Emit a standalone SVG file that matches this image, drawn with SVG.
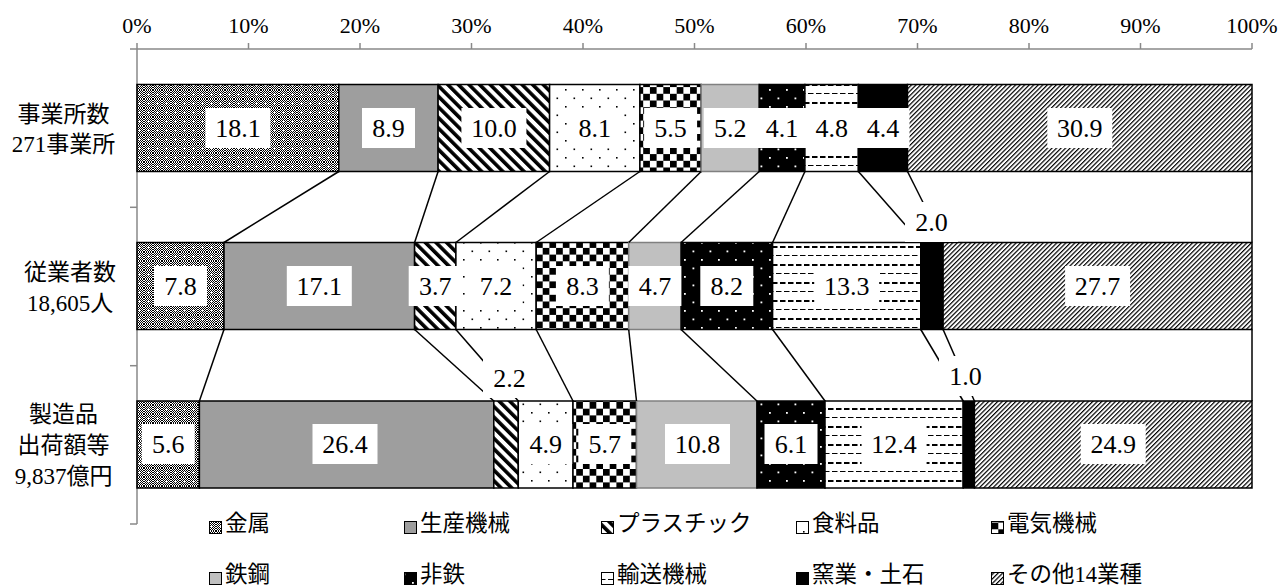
<svg xmlns="http://www.w3.org/2000/svg" width="1287" height="588" viewBox="0 0 1287 588">
<defs>
<pattern id="p-chk" width="2" height="2" patternUnits="userSpaceOnUse">
<rect width="2" height="2" fill="#fff"/>
<rect x="0" y="0" width="1" height="1" fill="#000"/>
<rect x="1" y="1" width="1" height="1" fill="#000"/>
</pattern>
<pattern id="p-metal" width="9" height="9" patternUnits="userSpaceOnUse">
<rect width="9" height="9" fill="url(#p-chk)"/>
<rect x="4" y="3" width="1" height="3" fill="#fff"/>
<rect x="3" y="4" width="3" height="1" fill="#fff"/>
</pattern>
<pattern id="p-plas" width="7.5" height="7.5" patternUnits="userSpaceOnUse" patternTransform="rotate(-45)">
<rect width="7.5" height="7.5" fill="#fff"/>
<rect x="0" y="0" width="3.6" height="7.5" fill="#000"/>
</pattern>
<pattern id="p-food" width="17" height="17" patternUnits="userSpaceOnUse">
<rect width="17" height="17" fill="#fff"/>
<rect x="4" y="4" width="1.6" height="1.6" fill="#000"/>
<rect x="12.5" y="12.5" width="1.6" height="1.6" fill="#000"/>
</pattern>
<pattern id="p-elec" width="13.4" height="13.4" patternUnits="userSpaceOnUse">
<rect width="13.4" height="13.4" fill="#fff"/>
<rect x="0" y="0" width="6.7" height="6.7" fill="#000"/>
<rect x="6.7" y="6.7" width="6.7" height="6.7" fill="#000"/>
</pattern>
<pattern id="p-nonf" width="17" height="17" patternUnits="userSpaceOnUse">
<rect width="17" height="17" fill="#000"/>
<rect x="4" y="4" width="1.8" height="1.8" fill="#fff"/>
<rect x="12.5" y="12.5" width="1.8" height="1.8" fill="#fff"/>
</pattern>
<pattern id="p-trans" width="16" height="18" patternUnits="userSpaceOnUse">
<rect width="16" height="18" fill="#fff"/>
<rect x="0" y="3" width="5.5" height="1" fill="#000"/>
<rect x="8" y="3" width="5.5" height="1" fill="#000"/>
<rect x="4" y="12" width="5.5" height="2" fill="#000"/>
<rect x="12" y="12" width="4" height="2" fill="#000"/>
<rect x="0" y="12" width="1.5" height="2" fill="#000"/>
</pattern>
<pattern id="p-oth" width="3.2" height="3.2" patternUnits="userSpaceOnUse" patternTransform="rotate(45)">
<rect width="3.2" height="3.2" fill="#fff"/>
<rect x="0" y="0" width="1.2" height="3.2" fill="#000"/>
</pattern>
</defs>
<style>
.seg{stroke:#000;stroke-width:1.5}
.metal{fill:url(#p-metal)}
.mach{fill:#9e9e9e}
.plas{fill:url(#p-plas)}
.food{fill:url(#p-food)}
.elec{fill:url(#p-elec)}
.steel{fill:#c0c0c0;stroke:#808080}
.nonf{fill:url(#p-nonf)}
.trans{fill:url(#p-trans)}
.cer{fill:#000}
.oth{fill:url(#p-oth)}
.box{fill:#fff}
.val{font-family:"Liberation Serif","Noto Sans CJK JP",serif;font-size:26px;text-anchor:middle;fill:#000}
.axt{font-family:"Liberation Serif","Noto Sans CJK JP",serif;font-size:22px;text-anchor:middle;fill:#000}
.cat{font-family:"Liberation Serif","Noto Sans CJK JP",serif;font-size:23px;text-anchor:middle;fill:#000}
.leg{font-family:"Liberation Serif","Noto Sans CJK JP",serif;font-size:22.5px;fill:#000}
.sw{stroke:#000;stroke-width:1}
.axis line{stroke:#898989;stroke-width:1.5}
.conn line{stroke:#000;stroke-width:1.5}
</style>
<rect width="1287" height="588" fill="#fff"/>

<g id="axis" class="axis">
<line x1="130" y1="49" x2="1252" y2="49"/>
<line x1="137" y1="43" x2="137" y2="524"/>
<line x1="248.5" y1="43" x2="248.5" y2="49"/>
<line x1="360" y1="43" x2="360" y2="49"/>
<line x1="471.5" y1="43" x2="471.5" y2="49"/>
<line x1="583" y1="43" x2="583" y2="49"/>
<line x1="694.5" y1="43" x2="694.5" y2="49"/>
<line x1="806" y1="43" x2="806" y2="49"/>
<line x1="917.5" y1="43" x2="917.5" y2="49"/>
<line x1="1029" y1="43" x2="1029" y2="49"/>
<line x1="1140.5" y1="43" x2="1140.5" y2="49"/>
<line x1="1252" y1="43" x2="1252" y2="49"/>
<line x1="130" y1="207.3" x2="137" y2="207.3"/>
<line x1="130" y1="365.7" x2="137" y2="365.7"/>
<line x1="130" y1="524" x2="137" y2="524"/>
</g>
<g id="axis-labels" class="axt">
<text x="137" y="33">0%</text>
<text x="248.5" y="33">10%</text>
<text x="360" y="33">20%</text>
<text x="471.5" y="33">30%</text>
<text x="583" y="33">40%</text>
<text x="694.5" y="33">50%</text>
<text x="806" y="33">60%</text>
<text x="917.5" y="33">70%</text>
<text x="1029" y="33">80%</text>
<text x="1140.5" y="33">90%</text>
<text x="1252" y="33">100%</text>
</g>

<g id="category-labels" class="cat">
<text x="63.5" y="121.5">事業所数</text>
<text x="63.5" y="152">271事業所</text>
<text x="70" y="279.5">従業者数</text>
<text x="70" y="311">18,605人</text>
<text x="63.5" y="421.5">製造品</text>
<text x="63.5" y="452.5">出荷額等</text>
<text x="63.5" y="484">9,837億円</text>
</g>

<g id="row-establishments">
<rect class="seg metal" x="137" y="84.5" width="201.8" height="87"/>
<rect class="seg mach" x="338.8" y="84.5" width="99.3" height="87"/>
<rect class="seg plas" x="438.1" y="84.5" width="111.5" height="87"/>
<rect class="seg food" x="549.6" y="84.5" width="90.3" height="87"/>
<rect class="seg elec" x="639.9" y="84.5" width="61.3" height="87"/>
<rect class="seg steel" x="701.2" y="84.5" width="58" height="87"/>
<rect class="seg nonf" x="759.2" y="84.5" width="45.7" height="87"/>
<rect class="seg trans" x="804.9" y="84.5" width="53.5" height="87"/>
<rect class="seg cer" x="858.4" y="84.5" width="49.1" height="87"/>
<rect class="seg oth" x="907.5" y="84.5" width="344.5" height="87"/>
</g>
<g id="row-employees">
<rect class="seg metal" x="137" y="242.5" width="87" height="87"/>
<rect class="seg mach" x="224" y="242.5" width="190.6" height="87"/>
<rect class="seg plas" x="414.6" y="242.5" width="41.3" height="87"/>
<rect class="seg food" x="455.9" y="242.5" width="80.3" height="87"/>
<rect class="seg elec" x="536.2" y="242.5" width="92.5" height="87"/>
<rect class="seg steel" x="628.7" y="242.5" width="52.4" height="87"/>
<rect class="seg nonf" x="681.1" y="242.5" width="91.5" height="87"/>
<rect class="seg trans" x="772.6" y="242.5" width="148.2" height="87"/>
<rect class="seg cer" x="920.8" y="242.5" width="22.3" height="87"/>
<rect class="seg oth" x="943.1" y="242.5" width="308.9" height="87"/>
</g>
<g id="row-shipments">
<rect class="seg metal" x="137" y="401" width="62.4" height="87"/>
<rect class="seg mach" x="199.4" y="401" width="294.4" height="87"/>
<rect class="seg plas" x="493.8" y="401" width="24.5" height="87"/>
<rect class="seg food" x="518.3" y="401" width="54.7" height="87"/>
<rect class="seg elec" x="573" y="401" width="63.5" height="87"/>
<rect class="seg steel" x="636.5" y="401" width="120.4" height="87"/>
<rect class="seg nonf" x="756.9" y="401" width="68.1" height="87"/>
<rect class="seg trans" x="825" y="401" width="138.2" height="87"/>
<rect class="seg cer" x="963.2" y="401" width="11.2" height="87"/>
<rect class="seg oth" x="974.4" y="401" width="277.6" height="87"/>
</g>

<g id="connectors" class="conn">
<line x1="338.8" y1="171.5" x2="224" y2="242.5"/>
<line x1="438.1" y1="171.5" x2="414.6" y2="242.5"/>
<line x1="549.6" y1="171.5" x2="455.9" y2="242.5"/>
<line x1="639.9" y1="171.5" x2="536.2" y2="242.5"/>
<line x1="701.2" y1="171.5" x2="628.7" y2="242.5"/>
<line x1="759.2" y1="171.5" x2="681.1" y2="242.5"/>
<line x1="804.9" y1="171.5" x2="772.6" y2="242.5"/>
<line x1="858.4" y1="171.5" x2="920.8" y2="242.5"/>
<line x1="907.5" y1="171.5" x2="943.1" y2="242.5"/>
<line x1="1252" y1="171.5" x2="1252" y2="242.5"/>
<line x1="224" y1="329.5" x2="199.4" y2="401"/>
<line x1="414.6" y1="329.5" x2="493.8" y2="401"/>
<line x1="455.9" y1="329.5" x2="518.3" y2="401"/>
<line x1="536.2" y1="329.5" x2="573" y2="401"/>
<line x1="628.7" y1="329.5" x2="636.5" y2="401"/>
<line x1="681.1" y1="329.5" x2="756.9" y2="401"/>
<line x1="772.6" y1="329.5" x2="825" y2="401"/>
<line x1="920.8" y1="329.5" x2="963.2" y2="401"/>
<line x1="943.1" y1="329.5" x2="974.4" y2="401"/>
<line x1="1252" y1="329.5" x2="1252" y2="401"/>
</g>

<g id="value-labels">
<rect class="box" x="205.4" y="108" width="65" height="40"/>
<rect class="box" x="362" y="108" width="53" height="40"/>
<rect class="box" x="461.4" y="108" width="65" height="40"/>
<rect class="box" x="568.3" y="108" width="53" height="40"/>
<rect class="box" x="644.1" y="108" width="53" height="40"/>
<rect class="box" x="703.7" y="108" width="53" height="40"/>
<rect class="box" x="755.6" y="108" width="53" height="40"/>
<rect class="box" x="805.2" y="108" width="53" height="40"/>
<rect class="box" x="856.5" y="108" width="53" height="40"/>
<rect class="box" x="1047.3" y="108" width="65" height="40"/>

<rect class="box" x="154" y="266" width="53" height="40"/>
<rect class="box" x="286.8" y="266" width="65" height="40"/>
<rect class="box" x="408.7" y="266" width="53" height="40"/>
<rect class="box" x="469.5" y="266" width="53" height="40"/>
<rect class="box" x="555.9" y="266" width="53" height="40"/>
<rect class="box" x="628.4" y="266" width="53" height="40"/>
<rect class="box" x="700.3" y="266" width="53" height="40"/>
<rect class="box" x="814.2" y="266" width="65" height="40"/>
<rect class="box" x="1065.1" y="266" width="65" height="40"/>
<rect class="box" x="905" y="202" width="53" height="40"/>

<rect class="box" x="141.7" y="424" width="53" height="40"/>
<rect class="box" x="312.5" y="424" width="65" height="40"/>
<rect class="box" x="519.2" y="424" width="53" height="40"/>
<rect class="box" x="578.3" y="424" width="53" height="40"/>
<rect class="box" x="665" y="424" width="65" height="40"/>
<rect class="box" x="764.5" y="424" width="53" height="40"/>
<rect class="box" x="861.6" y="424" width="65" height="40"/>
<rect class="box" x="1080.7" y="424" width="65" height="40"/>
<rect class="box" x="483" y="358" width="53" height="40"/>
<rect class="box" x="939" y="356" width="53" height="40"/>

<g class="val">
<text x="237.9" y="137">18.1</text>
<text x="388.5" y="137">8.9</text>
<text x="493.9" y="137">10.0</text>
<text x="594.8" y="137">8.1</text>
<text x="670.6" y="137">5.5</text>
<text x="730.2" y="137">5.2</text>
<text x="782.1" y="137">4.1</text>
<text x="831.7" y="137">4.8</text>
<text x="883" y="137">4.4</text>
<text x="1079.8" y="137">30.9</text>

<text x="180.5" y="295">7.8</text>
<text x="319.3" y="295">17.1</text>
<text x="435.2" y="295">3.7</text>
<text x="496" y="295">7.2</text>
<text x="582.4" y="295">8.3</text>
<text x="654.9" y="295">4.7</text>
<text x="726.8" y="295">8.2</text>
<text x="846.7" y="295">13.3</text>
<text x="1097.6" y="295">27.7</text>
<text x="931.5" y="231">2.0</text>

<text x="168.2" y="453">5.6</text>
<text x="345" y="453">26.4</text>
<text x="545.7" y="453">4.9</text>
<text x="604.8" y="453">5.7</text>
<text x="697.5" y="453">10.8</text>
<text x="791" y="453">6.1</text>
<text x="894.1" y="453">12.4</text>
<text x="1113.2" y="453">24.9</text>
<text x="509.5" y="387">2.2</text>
<text x="965.5" y="385">1.0</text>
</g>
</g>

<g id="legend">
<g id="leg-metal"><rect class="sw metal" x="209.5" y="521.5" width="12" height="12"/><text class="leg" x="225" y="531">金属</text></g>
<g id="leg-mach"><rect class="sw mach" x="404.5" y="521.5" width="12" height="12"/><text class="leg" x="420" y="531">生産機械</text></g>
<g id="leg-plas"><rect class="sw plas" x="601.5" y="521.5" width="12" height="12"/><text class="leg" x="617" y="531">プラスチック</text></g>
<g id="leg-food"><rect class="sw food" x="796.5" y="521.5" width="12" height="12"/><text class="leg" x="812" y="531">食料品</text></g>
<g id="leg-elec"><rect class="sw elec" x="991.5" y="521.5" width="12" height="12"/><text class="leg" x="1007" y="531">電気機械</text></g>
<g id="leg-steel"><rect class="sw steel" x="209.5" y="572.5" width="12" height="12"/><text class="leg" x="225" y="581.5">鉄鋼</text></g>
<g id="leg-nonf"><rect class="sw nonf" x="404.5" y="572.5" width="12" height="12"/><text class="leg" x="420" y="581.5">非鉄</text></g>
<g id="leg-trans"><rect class="sw trans" x="601.5" y="572.5" width="12" height="12"/><text class="leg" x="617" y="581.5">輸送機械</text></g>
<g id="leg-cer"><rect class="sw cer" x="796.5" y="572.5" width="12" height="12"/><text class="leg" x="812" y="581.5">窯業・土石</text></g>
<g id="leg-oth"><rect class="sw oth" x="991.5" y="572.5" width="12" height="12"/><text class="leg" x="1007" y="581.5">その他14業種</text></g>
</g>
</svg>
